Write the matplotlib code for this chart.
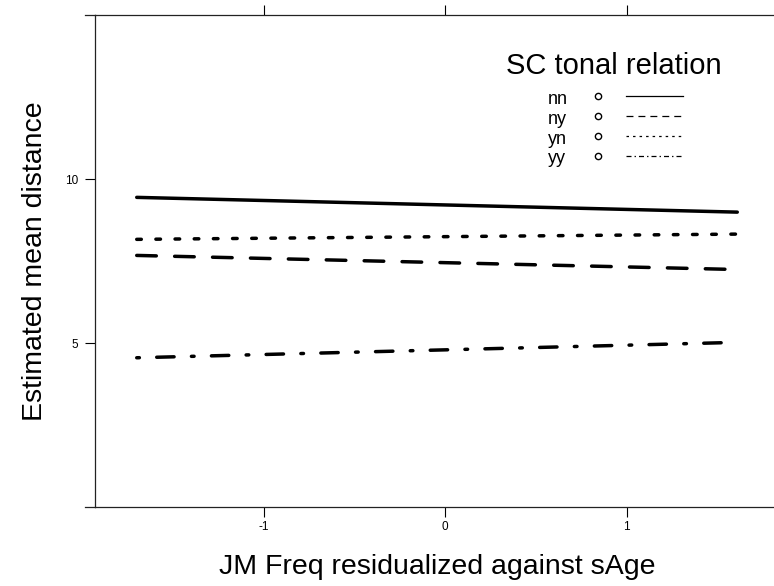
import matplotlib
matplotlib.use('Agg')
import matplotlib.pyplot as plt

W, H = 774, 586
plt.rcParams['font.family'] = ['Liberation Sans', 'DejaVu Sans']
plt.rcParams['lines.scale_dashes'] = False

# ---- data ----
groups = ['nn', 'ny', 'yn', 'yy']
x_vals = [-1.70, 1.61]
nn_vals = [9.44, 8.99]
ny_vals = [7.67, 7.24]
yn_vals = [8.16, 8.32]
yy_vals = [4.55, 5.02]
x_ticks = [-1, 0, 1]
y_ticks = [5, 10]
x_label = 'JM Freq residualized against sAge'
y_label = 'Estimated mean distance'
legend_title = 'SC tonal relation'

series = dict(zip(groups, [nn_vals, ny_vals, yn_vals, yy_vals]))
styles = {
    'nn': '-',
    'ny': (0, (14.1, 13.2)),
    'yn': (0, (3.3, 10.5)),
    'yy': (0, (1.9, 12.5, 12.5, 12.5)),
}
legend_styles = {
    'nn': '-',
    'ny': (0, (5.0, 3.6)),
    'yn': (0, (1.8, 2.9)),
    'yy': (0, (3.6, 2.2, 1.0, 2.2)),
}

fig = plt.figure(figsize=(W / 100, H / 100), dpi=100)
ax = fig.add_axes([95 / W, 1 - 507 / H, 684 / W, 492 / H])

for g in groups:
    ax.plot(x_vals, series[g], color='black', lw=2.5, linestyle=styles[g],
            solid_capstyle='round', dash_capstyle='round')

ax.set_xlim(-1.93, 1.84)
ax.set_ylim(0, 15)
ax.set_xticks(x_ticks)
ax.set_xticklabels([str(t) for t in x_ticks])
ax.set_yticks(y_ticks)
ax.set_yticklabels([str(t) for t in y_ticks])
ax.tick_params(axis='both', direction='out', length=7.2, width=0.8,
               labelsize=8.5, top=True, right=True, labeltop=False, labelright=False)
ax.tick_params(axis='x', pad=3)
ax.tick_params(axis='y', pad=5)
for sp in ax.spines.values():
    sp.set_linewidth(0.9)
    sp.set_color('#222222')

# small extension of top/bottom frame lines to the left, as in the original
ext = -10 / 684
for yy_ in (0, 1):
    ax.plot([ext, 0], [yy_, yy_], transform=ax.transAxes, clip_on=False,
            color='#222222', lw=0.9)

ax.set_xlabel(x_label, fontsize=20.5, labelpad=15)
ax.set_ylabel(y_label, fontsize=20.5, labelpad=12)

# ---- key ----
def fx(px):
    return px / W

def fy(py):
    return 1 - py / H

fig.text(fx(614), fy(66), legend_title, fontsize=21, ha='center', va='center')
row_y = [98, 118, 138, 158]
for g, ry in zip(groups, row_y):
    fig.text(fx(548), fy(ry + 1), g, fontsize=13, ha='left', va='center')
    fig.lines.append(plt.Line2D([fx(598)], [fy(ry - 2)], transform=fig.transFigure,
                                marker='o', markersize=4.5, mfc='none', mec='black',
                                mew=1.0, linestyle='none'))
    fig.lines.append(plt.Line2D([fx(626), fx(683)], [fy(ry - 2), fy(ry - 2)],
                                transform=fig.transFigure, color='black', lw=0.9,
                                linestyle=legend_styles[g]))

fig.savefig('out.png', dpi=100)
